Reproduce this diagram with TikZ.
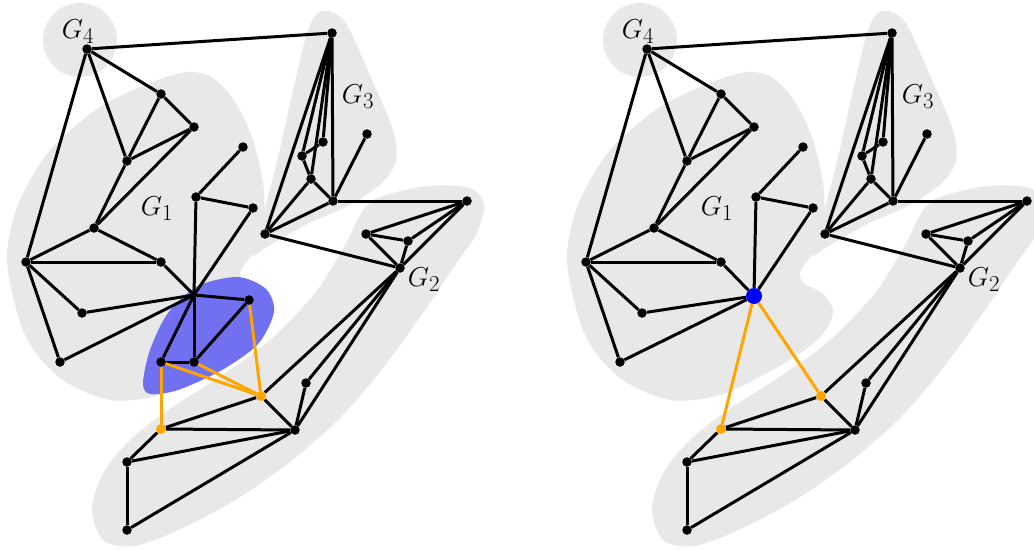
\documentclass[tikz,border=0pt]{standalone}
\usepackage{graphicx}
\definecolor{blobgray}{RGB}{232,232,232}
\definecolor{regblue}{RGB}{112,112,240}
\definecolor{edgeorange}{RGB}{255,165,0}
\tikzset{
  dot/.style={circle,fill=black,inner sep=0pt,minimum size=9.5pt},
  odot/.style={circle,fill=edgeorange,inner sep=0pt,minimum size=10pt},
  bdot/.style={circle,fill=blue,inner sep=0pt,minimum size=16pt},
  edge/.style={line width=3pt,black},
  oedge/.style={line width=3pt,edgeorange},
  blob/.style={fill=blobgray,draw=none},
  glabel/.style={font=\Huge,inner sep=0pt},
}
\newcommand\glab[1]{\scalebox{1.1}{$G_{#1}$}}
\newcommand\drawblobs{%
  \fill[blob] (80,40) circle (37);
  \fill[blob] plot[smooth cycle] coordinates {(7,262) (18,205) (50,150) (100,107) (150,83) (187,72) (213,78) (235,102) (253,140) (263,183) (264,218) (256,248) (240,272) (245,284) (262,293) (273,310) (266,330) (245,350) (207,373) (160,395) (110,400) (60,378) (25,335)};
  \fill[blob] plot[smooth cycle] coordinates {(322,11) (345,22) (372,80) (393,130) (396,160) (383,182) (350,205) (305,225) (262,250) (253,256) (256,240) (275,170) (292,95) (308,30)};
  \fill[blob] plot[smooth cycle] coordinates {(380,197) (427,186) (470,188) (484,205) (476,235) (455,265) (425,310) (383,368) (340,418) (290,462) (240,497) (185,527) (135,546) (103,540) (92,508) (104,472) (130,440) (168,410) (215,380) (268,342) (315,293) (345,245) (362,212)};
}
\newcommand\commongraph[1]{%
  \node[dot] (#1G4) at (87,49) {};
  \node[dot] (#1a) at (161,94) {};
  \node[dot] (#1b) at (194,127) {};
  \node[dot] (#1c) at (127,161) {};
  \node[dot] (#1d) at (94,228) {};
  \node[dot] (#1e) at (26,262) {};
  \node[dot] (#1f) at (161,262) {};
  \node[dot] (#1g) at (243,147) {};
  \node[dot] (#1h) at (196,197) {};
  \node[dot] (#1i) at (253,208) {};
  \node[dot] (#1k) at (82,313) {};
  \node[dot] (#1l) at (60,362) {};
  \node[odot] (#1o1) at (161,429) {};
  \node[dot] (#1p) at (127,462) {};
  \node[dot] (#1q) at (127,530) {};
  \node[odot] (#1o2) at (261,396) {};
  \node[dot] (#1r) at (306,383) {};
  \node[dot] (#1s) at (295,430) {};
  \node[dot] (#1G2) at (400,268) {};
  \node[dot] (#1t) at (332,33) {};
  \node[dot] (#1u) at (323,142) {};
  \node[dot] (#1v) at (302,156) {};
  \node[dot] (#1w) at (311,179) {};
  \node[dot] (#1x) at (333,201) {};
  \node[dot] (#1y) at (367,134) {};
  \node[dot] (#1z) at (265,234) {};
  \node[dot] (#1aa) at (467,201) {};
  \node[dot] (#1bb) at (366,234) {};
  \node[dot] (#1cc) at (408,241) {};
  \node[glabel] (#1lab4) at (78,32) {\glab{4}};
  \node[glabel] (#1lab1) at (157,209) {\glab{1}};
  \node[glabel] (#1lab3) at (358,97) {\glab{3}};
  \node[glabel] (#1lab2) at (424,280) {\glab{2}};
  \draw[edge] (#1G4) -- (#1t);
  \draw[edge] (#1G4) -- (#1a);
  \draw[edge] (#1G4) -- (#1c);
  \draw[edge] (#1G4) -- (#1e);
  \draw[edge] (#1a) -- (#1b);
  \draw[edge] (#1a) -- (#1c);
  \draw[edge] (#1c) -- (#1b);
  \draw[edge] (#1b) -- (#1d);
  \draw[edge] (#1c) -- (#1d);
  \draw[edge] (#1d) -- (#1e);
  \draw[edge] (#1d) -- (#1f);
  \draw[edge] (#1e) -- (#1f);
  \draw[edge] (#1e) -- (#1k);
  \draw[edge] (#1e) -- (#1l);
  \draw[edge] (#1f) -- (#1hub);
  \draw[edge] (#1k) -- (#1hub);
  \draw[edge] (#1l) -- (#1hub);
  \draw[edge] (#1h) -- (#1g);
  \draw[edge] (#1h) -- (#1i);
  \draw[edge] (#1h) -- (#1hub);
  \draw[edge] (#1i) -- (#1hub);
  \draw[edge] (#1o1) -- (#1o2);
  \draw[edge] (#1o1) -- (#1s);
  \draw[edge] (#1o1) -- (#1p);
  \draw[edge] (#1p) -- (#1s);
  \draw[edge] (#1p) -- (#1q);
  \draw[edge] (#1q) -- (#1s);
  \draw[edge] (#1o2) -- (#1s);
  \draw[edge] (#1o2) -- (#1G2);
  \draw[edge] (#1r) -- (#1G2);
  \draw[edge] (#1r) -- (#1s);
  \draw[edge] (#1s) -- (#1G2);
  \draw[edge] (#1t) -- (#1u);
  \draw[edge] (#1t) -- (#1v);
  \draw[edge] (#1t) -- (#1w);
  \draw[edge] (#1t) -- (#1z);
  \draw[edge] (#1t) -- (#1x);
  \draw[edge] (#1v) -- (#1u);
  \draw[edge] (#1v) -- (#1w);
  \draw[edge] (#1w) -- (#1x);
  \draw[edge] (#1w) -- (#1z);
  \draw[edge] (#1z) -- (#1x);
  \draw[edge] (#1x) -- (#1y);
  \draw[edge] (#1x) -- (#1aa);
  \draw[edge] (#1z) -- (#1G2);
  \draw[edge] (#1aa) -- (#1bb);
  \draw[edge] (#1aa) -- (#1cc);
  \draw[edge] (#1aa) -- (#1G2);
  \draw[edge] (#1bb) -- (#1cc);
  \draw[edge] (#1bb) -- (#1G2);
  \draw[edge] (#1cc) -- (#1G2);
}
\begin{document}
\begin{tikzpicture}[x=1pt,y=-1pt]
  \useasboundingbox (0,0) rectangle (1034,550);
  % left picture
  \begin{scope}
    \drawblobs
    \fill[regblue] plot[smooth cycle] coordinates {(143,383) (150,350) (168,313) (198,286) (238,277) (266,289) (274,312) (258,344) (222,370) (178,390) (150,394)};
    \coordinate (Lhub) at (194,295);
    \node[dot] (Lj) at (249,300) {};
    \node[dot] (Lm) at (161,362) {};
    \node[dot] (Ln) at (194,362) {};
    \commongraph{L}
    \draw[edge] (Lhub) -- (Lj);
    \draw[edge] (Lhub) -- (Lm);
    \draw[edge] (Lhub) -- (Ln);
    \draw[edge] (Lm) -- (Ln);
    \draw[edge] (Ln) -- (Lj);
    \draw[oedge] (Lm) -- (Lo1);
    \draw[oedge] (Lm) -- (Lo2);
    \draw[oedge] (Ln) -- (Lo2);
    \draw[oedge] (Lj) -- (Lo2);
  \end{scope}
  % right picture
  \begin{scope}[shift={(560,0)}]
    \drawblobs
    \node[bdot] (Rhub) at (194,296) {};
    \commongraph{R}
    \draw[oedge] (Rhub) -- (Ro1);
    \draw[oedge] (Rhub) -- (Ro2);
  \end{scope}
\end{tikzpicture}
\end{document}
